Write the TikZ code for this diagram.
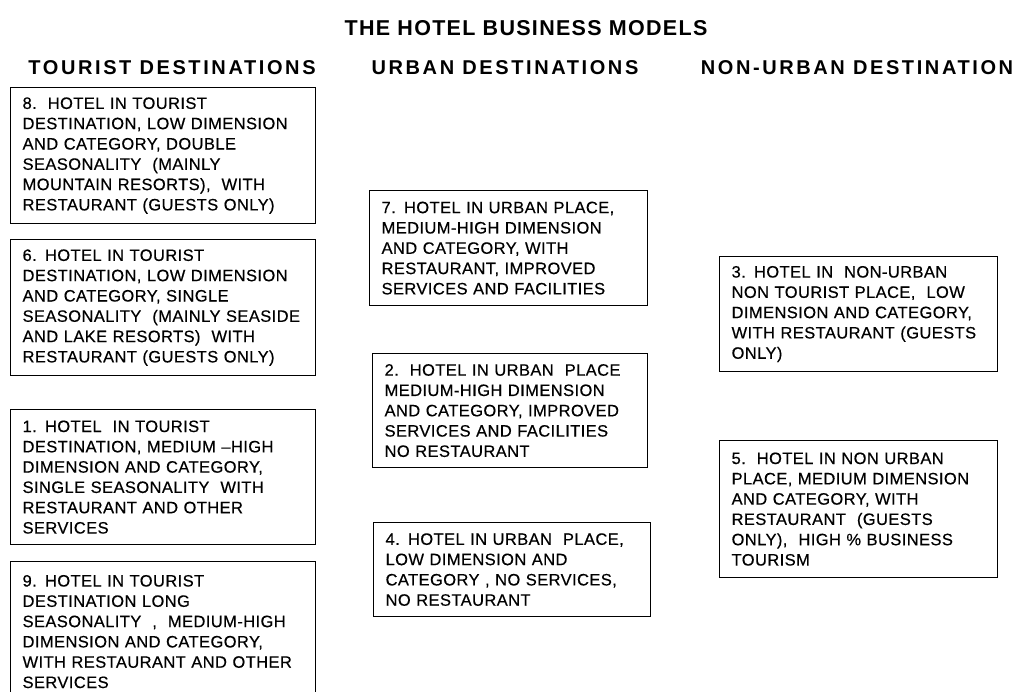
\documentclass[tikz,border=0pt]{standalone}
\usepackage{fontspec}
\setmainfont{Liberation Sans}
\newfontfamily\bodyfont[LetterSpace=2.5,FakeBold=0.4]{Liberation Sans}
\newfontfamily\headfont[LetterSpace=13]{Liberation Sans}
\newfontfamily\titlefont[LetterSpace=6]{Liberation Sans}
\begin{document}
\begin{tikzpicture}[x=1pt,y=-1pt,
  model/.style={draw=black, line width=1.2pt, anchor=north west, align=left,
    inner xsep=12pt, inner ysep=0pt, font=\bodyfont\fontsize{16.5}{20.3}\selectfont},
  colhead/.style={font=\headfont\bfseries\fontsize{20}{24}\selectfont, inner sep=0pt},
  maintitle/.style={font=\titlefont\bfseries\fontsize{21.5}{26}\selectfont, inner sep=0pt}]
  \clip (0,0) rectangle (1020,691);
  \fill[white] (0,0) rectangle (1020,691);

  % title and column headings
  \node[maintitle] (title) at (526,28) {THE HOTEL BUSINESS MODELS};
  \node[colhead] (tourist) at (172,68) {TOURIST DESTINATIONS};
  \node[colhead] (urban) at (505,68) {URBAN DESTINATIONS};
  \node[colhead] (nonurban) at (857,68) {NON-URBAN DESTINATION};

  % tourist destinations
  \node[model, text width=281pt, minimum height=136pt] (m8) at (10,87)
    {8.\ \ HOTEL IN TOURIST\\DESTINATION, LOW DIMENSION\\AND CATEGORY, DOUBLE\\SEASONALITY\ \ (MAINLY\\MOUNTAIN RESORTS),\ \ WITH\\RESTAURANT (GUESTS ONLY)};
  \node[model, text width=281pt, minimum height=136pt] (m6) at (10,239)
    {6. HOTEL IN TOURIST\\DESTINATION, LOW DIMENSION\\AND CATEGORY, SINGLE\\SEASONALITY\ \ (MAINLY SEASIDE\\AND LAKE RESORTS)\ \ WITH\\RESTAURANT (GUESTS ONLY)};
  \node[model, text width=281pt, minimum height=135pt] (m1) at (10,409)
    {1. HOTEL\ \ IN TOURIST\\DESTINATION, MEDIUM \textendash HIGH\\DIMENSION AND CATEGORY,\\SINGLE SEASONALITY\ \ WITH\\RESTAURANT AND OTHER\\SERVICES};
  \node[model, text width=281pt, minimum height=140pt] (m9) at (10,561)
    {9. HOTEL IN TOURIST\\DESTINATION LONG\\SEASONALITY\ \ ,\ \ MEDIUM-HIGH\\DIMENSION AND CATEGORY,\\WITH RESTAURANT AND OTHER\\SERVICES};

  % urban destinations
  \node[model, text width=254pt, minimum height=115pt] (m7) at (369,190)
    {7. HOTEL IN URBAN PLACE,\\MEDIUM-HIGH DIMENSION\\AND CATEGORY, WITH\\RESTAURANT, IMPROVED\\SERVICES AND FACILITIES};
  \node[model, text width=251pt, minimum height=114pt] (m2) at (372,353)
    {2.\ \ HOTEL IN URBAN\ \ PLACE\\MEDIUM-HIGH DIMENSION\\AND CATEGORY, IMPROVED\\SERVICES AND FACILITIES\\NO RESTAURANT};
  \node[model, text width=253pt, minimum height=94pt] (m4) at (373,522)
    {4. HOTEL IN URBAN\ \ PLACE,\\LOW DIMENSION AND\\CATEGORY , NO SERVICES,\\NO RESTAURANT};

  % non-urban destinations
  \node[model, text width=254pt, minimum height=115pt] (m3) at (719,256)
    {3. HOTEL IN\ \ NON-URBAN\\NON TOURIST PLACE,\ \ LOW\\DIMENSION AND CATEGORY,\\WITH RESTAURANT (GUESTS\\ONLY)};
  \node[model, text width=254pt, minimum height=137pt] (m5) at (719,440)
    {5.\ \ HOTEL IN NON URBAN\\PLACE, MEDIUM DIMENSION\\AND CATEGORY, WITH\\RESTAURANT\ \ (GUESTS\\ONLY),\ \ HIGH \% BUSINESS\\TOURISM};
\end{tikzpicture}
\end{document}
